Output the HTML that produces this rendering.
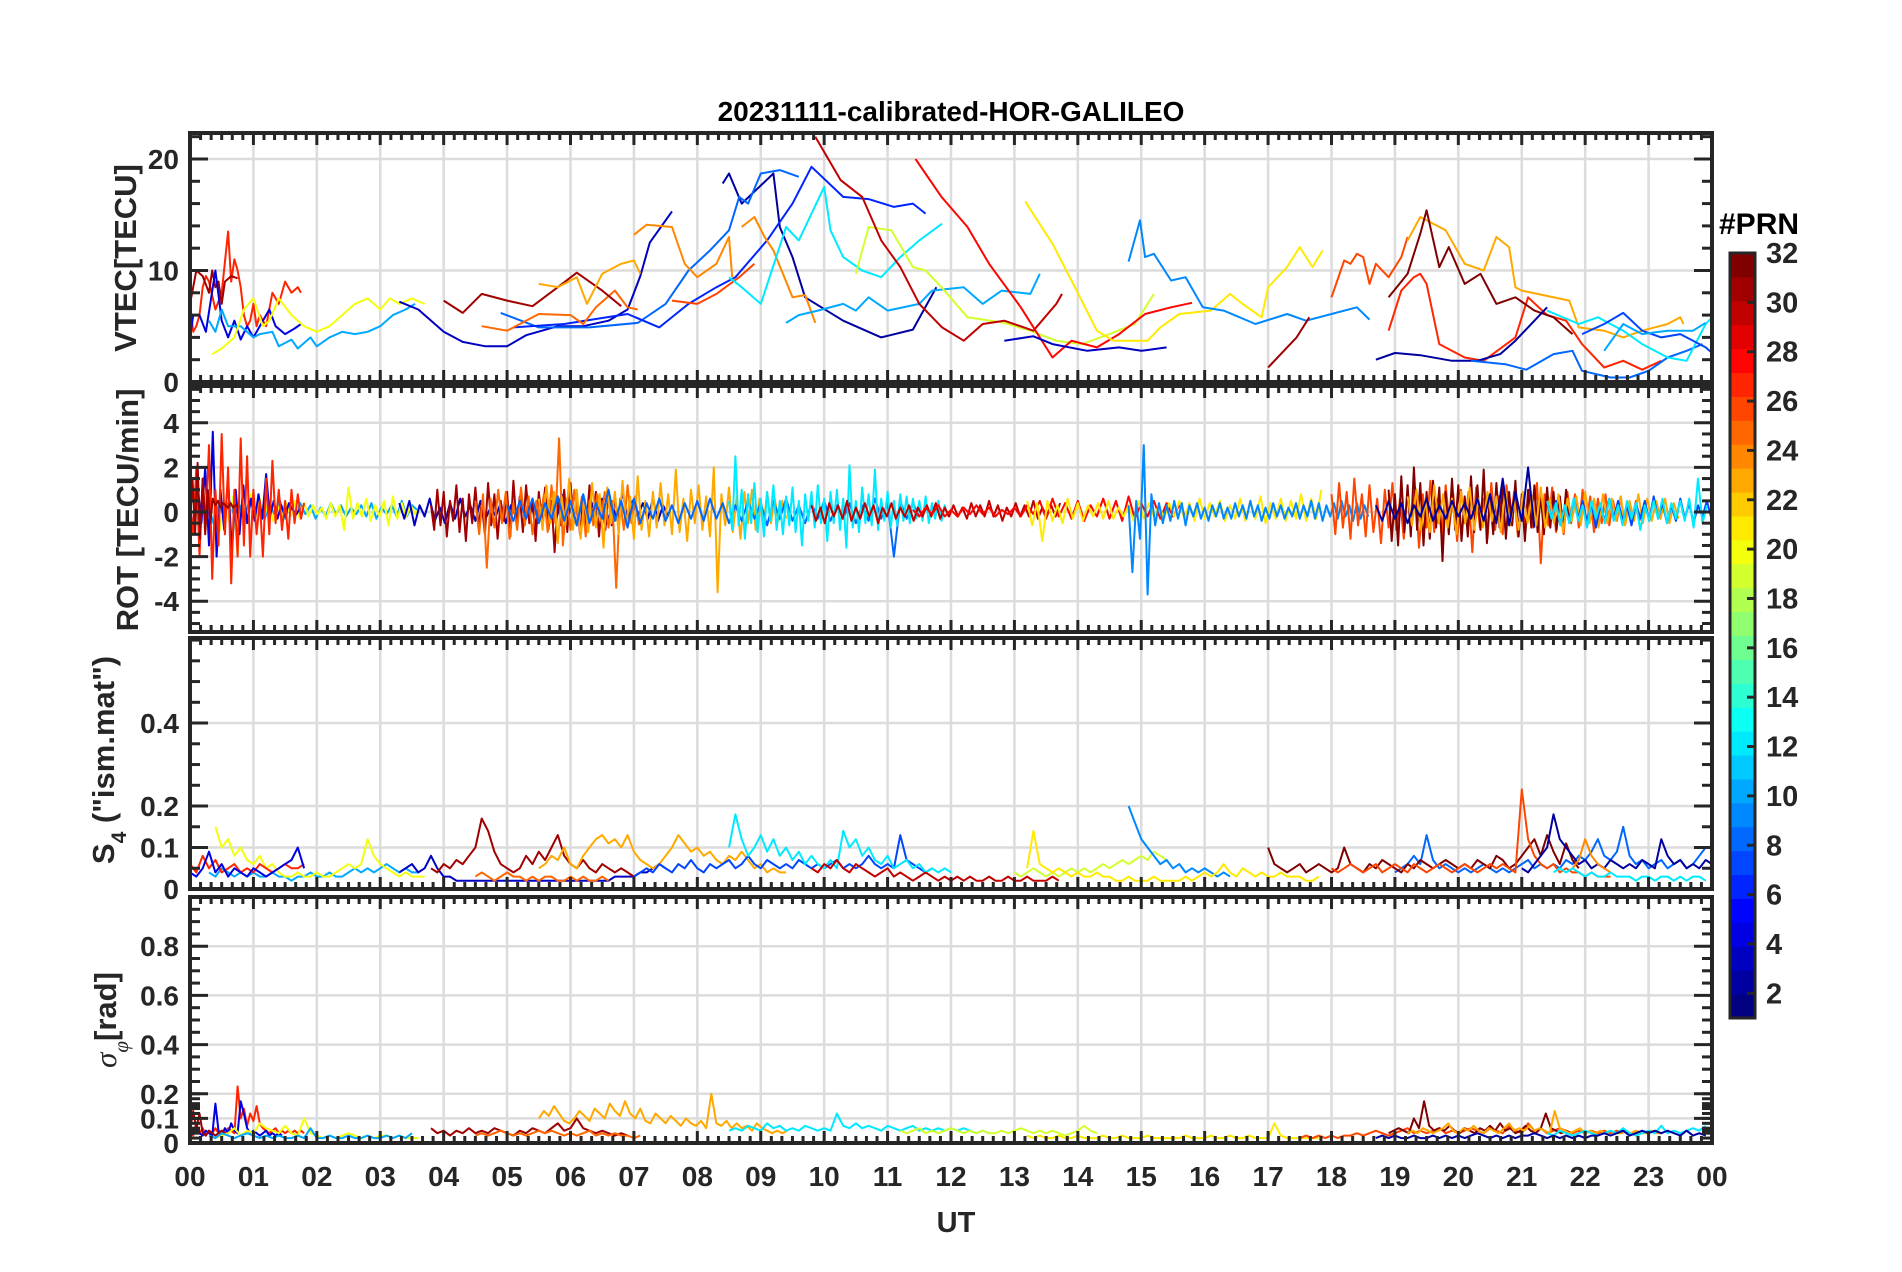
<!DOCTYPE html>
<html><head><meta charset="utf-8"><style>
html,body{margin:0;padding:0;background:#fff;}
svg{display:block;font-family:"Liberation Sans",sans-serif;}
</style></head><body>
<svg id="chart" width="1902" height="1272" viewBox="0 0 1902 1272" xmlns="http://www.w3.org/2000/svg">
<rect width="1902" height="1272" fill="#fff"/>
<g id="grid"></g>
<g id="marks"></g>
<g id="axes"></g>
<g id="cbar"></g>
<text x="951" y="121" text-anchor="middle" font-size="28" font-weight="bold" fill="#000">20231111-calibrated-HOR-GALILEO</text>
<text x="956" y="1232" text-anchor="middle" font-size="29" font-weight="bold" fill="#262626">UT</text>
<text transform="translate(136,258) rotate(-90)" text-anchor="middle" font-size="31" font-weight="bold" fill="#262626">VTEC[TECU]</text>
<text transform="translate(138,510) rotate(-90)" text-anchor="middle" font-size="31" font-weight="bold" fill="#262626">ROT [TECU/min]</text>
<text transform="translate(114,760) rotate(-90)" text-anchor="middle" font-size="31" font-weight="bold" fill="#262626">S<tspan font-size="21" dy="12">4</tspan><tspan dy="-12"> ("ism.mat")</tspan></text>
<text transform="translate(116,1020) rotate(-90)" text-anchor="middle" font-size="31" font-weight="bold" fill="#262626"><tspan font-family="Liberation Serif,serif" font-style="italic" font-weight="normal">σ</tspan><tspan font-family="Liberation Serif,serif" font-style="italic" font-weight="normal" font-size="21" dy="12">φ</tspan><tspan dy="-12">[rad]</tspan></text>
<text x="1719" y="234" font-size="30" font-weight="bold" fill="#000">#PRN</text>
</svg>
<script>
// ---------- VTEC data: [hour, TECU] ----------
const vtecP27=[[0,7],[0.05,4.5],[0.1,5],[0.15,6],[0.2,8.5],[0.25,9.5],[0.3,9],[0.4,6.5],[0.5,8],[0.6,13.5],[0.65,9],[0.7,11],[0.75,10],[0.8,8.5],[0.85,6],[0.9,5],[0.95,5.5],[1.0,7],[1.05,5],[1.1,6],[1.2,5],[1.3,8],[1.4,7],[1.5,9],[1.6,8],[1.7,8.5],[1.75,8]];
const vtecP31=[[0,7],[0.05,8.5],[0.1,10],[0.2,9.5],[0.3,8],[0.35,10],[0.4,8.5],[0.45,9],[0.5,7],[0.55,9],[0.65,9.5],[0.75,9.3]];
const vtecP4=[[0,4],[0.05,6],[0.15,6],[0.25,4.5],[0.4,10],[0.5,5.5],[0.6,4],[0.7,5.5],[0.8,3.8],[0.9,5],[1.0,4],[1.1,5],[1.25,6.5],[1.35,5],[1.5,4.3],[1.65,4.8],[1.75,5.2]];
const vtecP10=[[0.3,5.5],[0.4,4.5],[0.5,6.5],[0.6,5],[0.8,5],[1.0,4],[1.1,4.3],[1.3,4.5],[1.4,3.2],[1.6,3.8],[1.7,3],[1.9,4],[2.0,3.2],[2.2,4],[2.4,4.5],[2.6,4.3],[2.8,4.5],[3.0,5],[3.2,6],[3.4,6.5],[3.55,7]];
const vtecP20=[[0.35,2.5],[0.5,3],[0.7,4],[0.85,6.5],[1.0,7.5],[1.15,5],[1.25,5.5],[1.4,7.5],[1.6,6],[1.8,5],[2.0,4.5],[2.2,5],[2.4,6],[2.6,7],[2.8,7.5],[3.0,6.5],[3.15,7.5],[3.3,7],[3.5,7.5],[3.7,7]];
const vtecP3=[[3.3,7.2],[3.6,6.5],[4.0,4.5],[4.3,3.6],[4.66,3.2],[5.0,3.2],[5.3,4.2],[5.8,5.0],[6.2,5.0],[6.6,5.5],[6.9,6.5],[7.1,9.5],[7.25,12.5],[7.6,15.3]];
const vtecP2=[[8.4,17.8],[8.5,18.7],[8.7,16],[9.2,18.7],[9.3,13.9],[9.5,11.2],[9.7,7.6],[10.3,5.5],[10.9,4.0],[11.4,4.7],[11.77,8.5]];
const vtecP8=[[4.9,6.2],[5.5,4.9],[6.3,4.9],[7.06,5.3],[7.5,7],[7.86,10],[8.2,11.8],[8.5,13.6],[8.66,16.6],[8.8,16],[9.0,18.7],[9.3,19],[9.6,18.4]];
const vtecP6=[[5.1,4.9],[5.9,5.2],[6.9,6.1],[7.4,4.9],[7.86,7],[8.3,8.5],[8.6,9.4],[9.1,12.7],[9.5,16],[9.8,19.3],[10.3,16.6],[10.7,16.4],[11.1,15.7],[11.4,16],[11.6,15.1]];
const vtecP25=[[4.6,5.0],[5.0,4.6],[5.5,6.1],[6.0,6.0],[6.2,5.2],[6.4,6.7],[6.7,8.2],[6.9,6.7],[7.06,6.5]];
const vtecP31b=[[4.0,7.3],[4.3,6.2],[4.6,7.9],[5.0,7.3],[5.4,6.8],[5.8,8.5],[6.1,9.8],[6.5,8.2],[6.8,6.8]];
const vtecP23=[[5.5,8.8],[5.8,8.5],[6.1,9.4],[6.26,7],[6.5,9.7],[6.8,10.6],[7.0,10.9],[7.1,9.7]];
const vtecP24=[[7.0,13.2],[7.2,14.1],[7.6,13.9],[7.8,10.6],[8.0,9.4],[8.3,10.6],[8.5,13],[8.55,9.4]];
const vtecP24b=[[8.7,13.9],[8.9,14.8],[9.06,13],[9.2,11.8],[9.5,7.6],[9.7,7.8],[9.86,5.3]];
const vtecP26=[[7.6,7.3],[8.0,7.0],[8.3,7.9],[8.66,9.4],[8.9,10.6]];
const vtecP12=[[8.5,9.4],[8.7,8.5],[9.0,7],[9.4,13.9],[9.6,12.7],[10.0,17.5],[10.1,13.6],[10.3,11.2],[10.6,10],[10.9,9.4],[11.2,11.2],[11.5,12.7],[11.86,14.2]];
const vtecP10b=[[9.4,5.3],[9.6,6.0],[9.9,6.4],[10.3,7.0],[10.5,6.4],[10.7,7.6],[11.0,6.4],[11.5,7],[11.7,8.2],[12.2,8.5],[12.5,7],[12.8,8.2],[13.25,7.9],[13.4,9.7]];
const vtecP19=[[10.5,9.7],[10.7,13.9],[11.06,13.6],[11.4,10.3],[11.6,10],[11.85,8.5],[12.26,5.8],[12.84,5.3],[13.25,4.6],[13.66,3.7],[14.07,3.4],[14.5,4.3],[14.9,5.2],[15.2,7.9]];
const vtecP30=[[9.86,22],[10.26,18.1],[10.6,16.6],[10.9,12.7],[11.2,10.3],[11.5,7],[11.86,4.9],[12.2,3.7],[12.5,5.2],[12.84,5.5],[13.3,4.6],[13.66,7],[13.75,7.9]];
const vtecP28=[[11.44,20],[11.85,16.6],[12.26,13.9],[12.6,10.6],[13.1,6.7],[13.6,2.2],[13.9,3.7],[14.3,3.1],[14.65,4.3],[15.06,6.1],[15.47,6.7],[15.8,7.1]];
const vtecP21=[[13.17,16.2],[13.6,12.4],[13.9,9.1],[14.3,4.6],[14.56,3.7],[15.1,3.7],[15.3,4.9],[15.6,6.1],[16.1,6.4],[16.4,7.9],[16.6,7],[16.9,5.8],[17.0,8.5],[17.3,10.3],[17.5,12.1],[17.7,10.3],[17.86,11.8]];
const vtecP9=[[14.8,10.8],[14.98,14.5],[15.06,11.2],[15.2,11.5],[15.47,9.1],[15.7,9.4],[15.97,6.7],[16.3,6.4],[16.8,5.2],[17.3,6.1],[17.6,5.5],[18.0,6.1],[18.4,6.7],[18.6,5.6]];
const vtecP3b=[[12.84,3.7],[13.3,4.1],[13.6,3.4],[14.15,2.8],[14.65,3.1],[15.0,2.8],[15.4,3.1]];
const vtecP31c=[[17.0,1.3],[17.3,3.1],[17.45,4.0],[17.65,5.8]];
const vtecP26b=[[18.0,7.6],[18.2,10.9],[18.3,10.6],[18.4,11.5],[18.5,11.2],[18.6,8.8],[18.7,10.6],[18.9,9.4],[19.1,11.2],[19.2,13]];
const vtecP27b=[[18.9,4.6],[19.1,8.2],[19.3,9.4],[19.4,9.7],[19.5,8.8],[19.7,3.4],[20.1,2.2],[20.4,1.9],[20.9,4.0],[21.1,7.6],[21.4,6.0],[21.7,5.5],[21.95,3.4],[22.3,1.3],[22.6,1.9],[22.9,1.1],[23.2,1.9]];
const vtecP23b=[[19.2,12.7],[19.4,14.8],[19.8,13.6],[20.1,10.6],[20.4,10],[20.6,13],[20.8,12.1],[20.9,8.5],[21.0,8.2],[21.75,7.3],[21.9,4.9],[22.3,4.6],[22.6,4.0],[22.9,4.6],[23.3,5.2],[23.5,5.8],[23.55,5.2]];
const vtecP32=[[18.9,7.6],[19.2,9.7],[19.4,13.3],[19.5,15.4],[19.7,10.3],[19.85,12.1],[20.1,8.8],[20.35,9.7],[20.6,7],[20.9,7.6],[21.2,6.4],[21.5,5.8],[21.8,4.3]];
const vtecP2b=[[18.7,2.0],[19.0,2.6],[19.4,2.4],[19.9,1.9],[20.3,1.9],[20.66,2.5],[20.9,3.7],[21.2,5.5],[21.4,6.7]];
const vtecP8b=[[20.2,1.9],[20.74,1.6],[21.07,1.1],[21.5,2.5],[21.8,2.8],[21.95,1.0],[22.4,0.4],[22.7,0.4],[23.0,1.0],[23.3,2.2],[23.6,2.8],[23.85,3.4]];
const vtecP12b=[[21.4,6.4],[21.9,5.2],[22.2,5.8],[22.6,4.6],[22.9,3.4],[23.3,2.2],[23.6,1.9],[23.9,5.2],[24,5.8]];
const vtecP7=[[21.95,4.3],[22.3,5.2],[22.6,6.2],[22.9,4.6],[23.2,4],[23.5,4.3],[23.9,3.1],[24,2.6]];
const vtecP10c=[[22.3,2.8],[22.6,5.2],[22.9,4.3],[23.3,4.6],[23.7,4.6],[23.9,5.3]];
const vtecPRN=[27,31,4,10,20,3,2,8,6,25,31,23,24,24,26,12,10,19,30,28,21,9,3,31,26,27,23,32,2,8,12,7,10];
const vtecSeries=[vtecP27,vtecP31,vtecP4,vtecP10,vtecP20,vtecP3,vtecP2,vtecP8,vtecP6,vtecP25,vtecP31b,vtecP23,vtecP24,vtecP24b,vtecP26,vtecP12,vtecP10b,vtecP19,vtecP30,vtecP28,vtecP21,vtecP9,vtecP3b,vtecP31c,vtecP26b,vtecP27b,vtecP23b,vtecP32,vtecP2b,vtecP8b,vtecP12b,vtecP7,vtecP10c];

// ---------- ROT data: start hour, step, values ----------
const rotPRN=[10,20,4,27,31,3,31,25,23,8,12,30,28,21,9,26,32,23,2,7,12];
const rotStart=[0.3,0.4,0,0,0,3.3,3.8,4.5,5.5,5.0,8.5,9.8,11.4,13.2,14.8,18.0,18.9,19.2,18.7,21.4,21.4];
const rotStep=[0.08,0.07,0.06,0.05,0.04,0.08,0.05,0.06,0.06,0.1,0.05,0.07,0.1,0.08,0.06,0.06,0.05,0.07,0.1,0.07,0.07];
const rotV0=[0.2,-0.6,0.4,-0.3,0.5,-0.2,0.3,-0.4,0.6,-0.1,0.2,-0.3,0.4,-0.2,0.5,-0.3,0.3,-0.2,0.4,-0.1,0.3,-0.3,0.2,-0.2,0.4,-0.1,0.3,-0.2,0.2,-0.1,0.3,-0.2,0.4,-0.3,0.2,-0.1,0.3,-0.2,0.5,-0.2,0.3,0.1];
const rotV1=[0.3,-0.8,0.5,-0.4,0.7,-1.9,0.4,-0.5,0.8,-0.3,0.6,-0.2,0.5,-0.4,0.3,-0.3,0.4,-0.2,0.5,-0.3,0.4,-0.2,0.3,-0.1,0.2,-0.3,0.4,-0.2,0.3,-0.8,1.1,-0.3,0.4,-0.2,0.6,-0.4,0.3,-0.2,0.5,-0.6,0.7,-0.3,0.4,-0.2,0.3,-0.1,0.2];
const rotV2=[0.3,-1,1.2,-0.5,2,-1.5,3.6,-2,1,-0.8,1.5,-1.8,1,-1,1.2,-0.5,0.6,-0.4,0.8,-0.3,1.7,-0.2,0.5,-0.3,0.3,-0.2,0.4,0.1,-0.1,0.2];
const rotV3=[0.5,-1,2,-2,1.5,-0.5,3,-3,1,-1.5,3.5,-1,2,-3.2,1,-2,3.3,-1.5,2.5,-2,1,-1,0.5,-2,1.5,-1,2.3,-0.5,1,-0.8,0.5,-1.2,1,-0.5,0.8,-0.3,0.4];
const rotV4=[-0.5,1.5,-1,2.2,-1.2,1.5,-1,1,-0.5,0.6,0.3,0.5,0.2,0.4,0.3,0.2,0.4,0.2,0.3,0.2];
const rotV5=[0.4,-0.3,0.5,-0.6,0.3,-0.2,0.6,-0.4,0.2,-0.5,0.4,-0.3,0.6,-0.2,0.3,-0.4,0.5,-0.3,0.2,-0.2,0.4,-0.5,0.3,-0.2,0.7,-0.3,0.4,-0.6,0.3,-0.2,0.5,-0.3,0.8,-0.4,0.3,-0.6,0.5,-0.3,0.4,-0.2,0.6,-0.5,0.3,-0.4,0.9,-0.3,0.5,-0.2,0.4,-0.3,0.6,-0.4,0.3,-0.2];
const rotV6=[0.3,-0.8,1,-0.6,0.9,-1.1,0.5,-0.4,1.2,-0.9,0.6,-1.3,0.8,-0.5,1.1,-0.7,0.4,-1,1.3,-0.6,0.8,-1.2,0.5,-0.4,0.9,-1.1,1.4,-0.6,0.7,-0.9,1.2,-0.5,0.6,-1.3,0.9,-0.4,1.1,-0.8,0.5,-1.8,0.7,-0.6,1,-0.9,1.3,-0.5,0.8,-1,0.6,-0.7,1.2,-0.4,0.9,-1.1,0.5,-0.8,1,-0.6,0.7,-0.5];
const rotV7=[0.5,-1,0.8,-2.5,0.6,-0.7,1,-0.5,0.9,-1.2,0.4,-0.8,1.1,-0.6,0.7,-1,0.5,-0.4,0.8,-0.9,1.2,-0.5,3.3,-1.5,0.6,-0.8,1,-0.5,0.7,-1.1,0.5,-0.6,0.8,-0.4,0.9,-0.7,0.5,-3.4,0.6,-0.8,1.2,-0.5,0.7,-0.6];
const rotV8=[0.6,-0.8,1.2,-0.5,0.9,-1.4,0.7,-0.6,1.5,-0.8,1,-1.2,0.6,-0.9,1.3,-0.7,0.8,-1.6,1.1,-0.5,0.9,-1,1.4,-0.6,0.7,-1.2,1.6,-0.8,0.5,-1.1,0.9,-0.7,1.3,-0.6,0.8,-1,1.9,-0.9,0.6,-1.3,1,-0.5,1.2,-0.8,0.7,-1.1,2,-3.6,0.8,-0.6,1.1,-0.9,0.7,-1.2,0.9,-0.5,1,-0.8,0.6,-0.7,0.9,-0.5,0.6,-0.4,0.5,-0.3];
const rotV9=[0.3,-0.4,0.5,-0.3,0.6,-0.5,0.4,-0.3,0.7,-0.4,0.5,-0.6,0.8,-0.5,0.4,-0.3,1.0,-0.4,0.5,-0.7,0.6,-0.5,0.4,-0.3,0.6,-0.4,0.3,-0.5,0.4,-0.3,0.5,-0.4,0.6,-0.3,0.4,-0.5,0.3,-0.4,0.5,-0.3,0.4,-0.6,0.5,-0.3,0.6,-0.4,0.3,-0.5,0.4,-0.3,0.5,-0.4,0.3,-0.3,0.4,-0.5,0.3,-0.4,0.6,-0.3,0.4,-2.0,0.5,-0.3,0.4,-0.2];
const rotV10=[0.5,-0.8,2.5,-0.6,1,-1.2,0.8,-0.5,1.3,-0.9,0.6,-1.1,0.9,-0.4,1.2,-0.8,0.5,-1,0.7,-0.6,1.1,-0.9,0.5,-1.5,0.8,-0.4,0.9,-0.7,1.2,-0.5,0.6,-1.3,0.9,-0.5,1,-0.8,0.6,-1.6,2.1,-0.7,0.5,-0.9,1.1,-0.5,0.8,-0.6,1.9,-0.8,0.6,-0.4,0.9,-0.7,0.5,-0.6,0.8,-0.4,0.7,-0.5,0.6,-0.3,0.5,-0.4,0.7,-0.5,0.4,-0.3,0.5,-0.4,0.3,-0.2];
const rotV11=[0.3,-0.4,0.2,-0.5,0.4,-0.2,0.3,-0.3,0.5,-0.4,0.2,-0.3,0.4,-0.2,0.3,-0.5,0.2,-0.2,0.4,-0.3,0.2,-0.2,0.3,-0.4,0.2,-0.2,0.3,-0.2,0.4,-0.3,0.2,-0.2,0.3,-0.2,0.2,-0.3,0.4,-0.2,0.3,-0.2,0.5,-0.2,0.3,-0.4,0.2,-0.2,0.4,-0.2,0.3,-0.2,0.5,-0.3,0.2,-0.2,0.3,-0.2,0.4];
const rotV12=[0.1,-0.2,0.2,-0.1,0.3,-0.2,0.1,-0.2,0.2,-0.1,0.3,-0.1,0.2,-0.2,0.1,-0.1,0.2,-0.2,0.3,-0.1,0.5,-0.3,0.6,-0.2,0.4,-0.3,0.5,-0.4,0.3,-0.2,0.6,-0.3,0.5,-0.4,0.7,-0.3,0.4,-0.2,0.5,-0.3,0.4,-0.2,0.3,-0.2];
const rotV13=[0.5,-0.6,0.4,-1.3,0.5,-0.4,0.3,-0.5,0.6,-0.3,0.4,-0.4,0.3,-0.2,0.4,-0.3,0.5,-0.3,0.2,-0.2,0.3,-0.4,0.5,-0.3,0.4,-0.2,0.3,-0.3,0.4,-0.2,0.5,-0.3,0.4,-0.4,0.6,-0.3,0.4,-0.2,0.5,-0.4,0.3,-0.3,0.6,-0.4,0.5,-0.3,0.7,-0.5,0.4,-0.3,0.6,-0.4,0.5,-0.3,0.8,-0.4,0.6,-0.3,1.0];
const rotV14=[0.3,-2.7,0.5,-1.2,3.0,-3.7,0.8,-0.6,0.4,-0.5,0.3,-0.4,0.5,-0.3,0.4,-0.6,0.3,-0.2,0.4,-0.3,0.2,-0.4,0.3,-0.2,0.4,-0.3,0.2,-0.3,0.4,-0.2,0.3,-0.3,0.5,-0.2,0.3,-0.4,0.2,-0.3,0.4,-0.2,0.3,-0.3,0.2,-0.2,0.4,-0.3,0.3,-0.2,0.5,-0.3,0.4,-0.4,0.3,-0.2,0.4,-0.3,0.5,-0.2,0.3,-0.4,0.4,-0.3,0.3,-0.2];
const rotV15=[0.8,-1,1.3,-0.7,0.9,-1.2,1.5,-0.6,0.8,-1.1,1.2,-0.9,0.6,-1.4,1,-0.7,1.3,-0.8,0.6,-1.2,0.9,-0.5,1.1,-1.6,0.8,-0.7,1.4,-0.9,0.6,-1.1,1.2,-0.6,0.8,-1.3,1,-0.5,0.9,-1.8,1.1,-0.7,0.6,-1.2,1.3,-0.8,0.7,-1,1.2,-0.6,0.9,-1.1,0.5,-0.8,1,-0.7,1.3,-2.3,0.8,-0.6,1.1,-0.9,0.7,-1,0.9,-0.5,0.8,-0.7,1,-0.6,0.7,-0.9,0.6,-0.5,0.8,-0.6,0.5,-0.4,0.7,-0.5,0.4,-0.3,0.5,-0.4];
const rotV16=[1,-1.3,0.8,-1.5,1.6,-0.9,1.2,-1.1,2,-0.8,1.3,-1.5,0.9,-1.2,1.4,-0.7,1.1,-2.2,0.9,-1,1.5,-0.8,1.2,-1.3,0.7,-1.1,1.6,-0.9,1.2,-0.8,1.9,-1.4,0.8,-1,1.3,-0.7,1.1,-1.2,0.9,-0.6,1.4,-1.1,0.8,-1.3,1,-0.7,1.2,-0.9,0.8,-1,1.1,-0.7,0.9,-0.8,0.7,-0.6,1.0,-0.5];
const rotV17=[0.7,-0.6,1,-0.8,0.5,-0.9,1.2,-0.5,0.8,-0.7,0.6,-1,0.9,-0.5,1.1,-0.8,0.6,-0.7,0.9,-0.4,0.7,-0.9,1,-0.6,0.5,-0.8,0.9,-0.5,0.7,-0.6,1.1,-0.7,0.6,-0.5,0.8,-0.9,0.6,-0.4,0.7,-0.6,0.9,-0.5,0.6,-0.7,0.8,-0.5,0.6,-0.4,0.7,-0.6,0.5,-0.4,0.8,-0.5,0.6,-0.4,0.5,-0.3,0.6,-0.5,0.4,-0.3];
const rotV18=[0.3,-0.4,0.5,-0.3,0.4,-0.5,0.3,-0.2,0.6,-0.4,0.3,-0.3,0.5,-0.2,0.4,-0.3,0.6,-0.4,0.8,-0.5,1.5,-0.6,0.9,-0.4,2.0,-0.7];
const rotV19=[0.4,-0.3,0.5,-0.6,0.3,-0.4,0.6,-0.3,0.5,-0.5,0.4,-0.7,0.3,-0.4,0.6,-0.3,0.5,-0.4,0.3,-0.6,0.4,-0.3,0.5,-0.4,0.7,-0.3,0.4,-0.5,0.3,-0.4,0.6,-0.3,0.4,-0.5,0.3,-0.2,0.5,-0.3];
const rotV20=[0.5,-0.3,0.4,-0.6,0.3,-0.5,0.6,-0.4,0.3,-0.7,0.5,-0.3,0.4,-0.5,0.6,-0.4,0.3,-0.6,0.5,-0.3,0.4,-0.8,0.3,-0.4,0.5,-0.3,0.6,-0.5,0.4,-0.3,0.5,-0.4,0.6,-0.7,1.5,-0.5,0.3];
const rotSeries=[rotV0,rotV1,rotV2,rotV3,rotV4,rotV5,rotV6,rotV7,rotV8,rotV9,rotV10,rotV11,rotV12,rotV13,rotV14,rotV15,rotV16,rotV17,rotV18,rotV19,rotV20];

// ---------- S4 data ----------
const s4PRN=[10,3,20,27,4,31,23,25,7,12,30,19,9,21,8,32,26,2,24,12];
const s4Start=[0.3,3.3,0.4,0,0,3.8,5.5,4.5,7.0,8.5,9.8,13.0,14.8,13.2,19.0,17.0,18.0,21.0,21.8,21.5];
const s4Step=[0.1,0.1,0.1,0.1,0.1,0.1,0.1,0.1,0.1,0.1,0.1,0.1,0.1,0.1,0.1,0.1,0.1,0.1,0.1,0.1];
const s4V0=[0.04,0.03,0.05,0.04,0.03,0.04,0.03,0.04,0.03,0.03,0.04,0.03,0.03,0.02,0.03,0.03,0.04,0.03,0.03,0.04,0.03,0.03,0.04,0.05,0.04,0.05,0.04,0.05,0.06,0.05,0.04,0.05,0.04,0.04];
const s4V1=[0.04,0.05,0.06,0.04,0.05,0.08,0.05,0.03,0.03,0.02,0.02,0.02,0.02,0.02,0.02,0.02,0.02,0.02,0.02,0.02,0.02,0.02,0.02,0.02,0.02,0.02,0.02,0.02,0.02,0.02,0.02,0.02,0.02,0.02,0.03,0.03,0.03,0.03,0.04,0.04,0.05,0.06,0.05];
const s4V2=[0.15,0.1,0.12,0.08,0.1,0.07,0.06,0.08,0.05,0.06,0.04,0.03,0.03,0.04,0.03,0.03,0.04,0.03,0.03,0.04,0.05,0.06,0.05,0.06,0.12,0.08,0.06,0.05,0.04,0.03,0.04,0.03,0.03,0.03];
const s4V3=[0.06,0.04,0.08,0.05,0.07,0.04,0.05,0.06,0.04,0.05,0.04,0.06,0.05,0.04,0.05,0.06,0.05,0.05,0.06];
const s4V4=[0.04,0.03,0.05,0.09,0.04,0.06,0.03,0.05,0.04,0.03,0.05,0.04,0.03,0.04,0.05,0.06,0.07,0.1,0.05];
const s4V5=[0.05,0.04,0.06,0.05,0.07,0.06,0.08,0.1,0.17,0.14,0.09,0.06,0.05,0.04,0.05,0.08,0.06,0.09,0.07,0.1,0.13,0.08,0.06,0.05,0.07,0.05,0.04,0.06,0.05,0.04,0.05,0.04,0.03];
const s4V6=[0.05,0.06,0.08,0.07,0.1,0.06,0.05,0.08,0.1,0.12,0.13,0.11,0.12,0.1,0.13,0.09,0.07,0.06,0.05,0.06,0.08,0.1,0.13,0.11,0.09,0.1,0.08,0.09,0.07,0.06,0.08,0.07,0.09,0.07,0.05,0.06,0.04,0.05,0.04,0.04];
const s4V7=[0.03,0.04,0.03,0.02,0.03,0.04,0.03,0.03,0.02,0.03,0.02,0.03,0.03,0.02,0.02,0.03,0.02,0.03,0.02,0.02,0.03,0.02];
const s4V8=[0.03,0.04,0.05,0.04,0.06,0.05,0.04,0.06,0.05,0.07,0.05,0.04,0.06,0.05,0.06,0.07,0.05,0.06,0.08,0.06,0.05,0.07,0.06,0.05,0.06,0.05,0.07,0.06,0.05,0.06,0.05,0.06,0.07,0.05,0.06,0.05,0.06,0.08,0.06,0.05,0.06,0.05,0.13,0.07,0.06,0.05,0.04,0.05];
const s4V9=[0.1,0.18,0.12,0.08,0.1,0.13,0.09,0.12,0.08,0.1,0.07,0.09,0.06,0.08,0.06,0.05,0.07,0.05,0.14,0.1,0.12,0.08,0.1,0.07,0.06,0.08,0.05,0.06,0.07,0.05,0.06,0.04,0.05,0.04,0.05,0.04];
const s4V10=[0.05,0.04,0.06,0.05,0.07,0.05,0.04,0.06,0.05,0.04,0.03,0.04,0.05,0.03,0.04,0.03,0.02,0.03,0.04,0.03,0.02,0.03,0.02,0.03,0.02,0.03,0.02,0.02,0.03,0.02,0.02,0.03,0.02,0.02,0.03,0.02,0.02,0.02,0.03,0.02];
const s4V11=[0.04,0.03,0.04,0.05,0.04,0.03,0.04,0.03,0.04,0.05,0.04,0.05,0.04,0.05,0.06,0.05,0.06,0.07,0.06,0.07,0.08,0.07,0.09,0.08,0.07];
const s4V12=[0.2,0.16,0.12,0.1,0.08,0.06,0.07,0.05,0.06,0.04,0.05,0.04,0.05,0.04,0.03,0.04,0.03];
const s4V13=[0.05,0.14,0.06,0.05,0.04,0.05,0.04,0.03,0.04,0.03,0.03,0.04,0.03,0.03,0.02,0.02,0.03,0.02,0.02,0.02,0.03,0.02,0.02,0.02,0.02,0.03,0.02,0.03,0.04,0.03,0.04,0.06,0.04,0.03,0.05,0.04,0.03,0.04,0.03,0.03,0.04,0.03,0.03,0.03,0.02,0.02,0.03];
const s4V14=[0.04,0.05,0.06,0.08,0.06,0.13,0.07,0.05,0.06,0.05,0.04,0.05,0.04,0.05,0.06,0.05,0.04,0.05,0.04,0.05,0.06,0.07,0.05,0.06,0.05,0.06,0.05,0.07,0.06,0.08,0.07,0.09,0.12,0.08,0.07,0.09,0.15,0.08,0.06,0.07,0.05,0.06,0.07,0.05,0.06,0.07,0.05,0.06,0.08,0.1];
const s4V15=[0.1,0.06,0.05,0.04,0.05,0.06,0.04,0.05,0.06,0.05,0.04,0.05,0.1,0.06,0.05,0.04,0.06,0.05,0.07,0.06,0.05,0.04,0.06,0.05,0.07,0.06,0.05,0.06,0.07,0.06,0.05,0.06,0.05,0.07,0.06,0.05,0.08,0.07,0.05,0.06,0.08,0.1,0.12,0.08,0.13,0.09,0.06,0.11,0.07,0.05];
const s4V16=[0.05,0.04,0.05,0.06,0.05,0.04,0.05,0.06,0.04,0.05,0.06,0.05,0.04,0.06,0.05,0.04,0.05,0.06,0.05,0.04,0.05,0.06,0.05,0.04,0.05,0.06,0.05,0.06,0.05,0.04,0.24,0.12,0.08,0.06,0.05,0.06,0.04,0.05,0.04,0.04,0.03,0.04,0.03,0.03,0.03];
const s4V17=[0.05,0.04,0.06,0.08,0.1,0.18,0.12,0.1,0.08,0.06,0.07,0.05,0.06,0.05,0.07,0.06,0.05,0.06,0.05,0.07,0.06,0.05,0.12,0.08,0.06,0.07,0.05,0.06,0.05,0.07,0.06];
const s4V18=[0.05,0.07,0.12,0.08,0.06,0.05,0.04];
const s4V19=[0.04,0.05,0.04,0.05,0.04,0.03,0.04,0.03,0.03,0.04,0.03,0.03,0.03,0.02,0.03,0.03,0.02,0.03,0.03,0.02,0.03,0.02,0.03,0.03,0.02];
const s4Series=[s4V0,s4V1,s4V2,s4V3,s4V4,s4V5,s4V6,s4V7,s4V8,s4V9,s4V10,s4V11,s4V12,s4V13,s4V14,s4V15,s4V16,s4V17,s4V18,s4V19];

// ---------- sigma-phi data ----------
const sigPRN=[27,4,31,20,10,31,23,25,12,19,21,26,32,23,12,2];
const sigStart=[0,0,0,0.4,0.3,3.8,5.5,4.5,8.5,11.2,13.2,17.5,18.9,19.2,21.4,18.7];
const sigStep=[0.05,0.05,0.05,0.1,0.1,0.1,0.08,0.1,0.1,0.1,0.1,0.1,0.08,0.08,0.1,0.1];
const sigV0=[0.05,0.03,0.08,0.04,0.06,0.03,0.05,0.04,0.06,0.04,0.05,0.04,0.06,0.05,0.04,0.23,0.1,0.14,0.07,0.12,0.09,0.15,0.08,0.06,0.05,0.04,0.05,0.06,0.04,0.05,0.04,0.05,0.04,0.05,0.04,0.05,0.04];
const sigV1=[0.03,0.04,0.06,0.04,0.03,0.05,0.04,0.03,0.16,0.05,0.03,0.06,0.04,0.08,0.05,0.04,0.17,0.12,0.06,0.04,0.05,0.04,0.03,0.04,0.05,0.03,0.04,0.03,0.04,0.03];
const sigV2=[0.05,0.13,0.06,0.12,0.04,0.03,0.05,0.04,0.03,0.04,0.05,0.04];
const sigV3=[0.02,0.03,0.04,0.06,0.03,0.05,0.04,0.08,0.06,0.05,0.04,0.07,0.04,0.03,0.1,0.04,0.03,0.02,0.03,0.02,0.03,0.04,0.03,0.02,0.03,0.02,0.03,0.03,0.02,0.03,0.02,0.02,0.02];
const sigV4=[0.03,0.02,0.04,0.03,0.02,0.03,0.04,0.03,0.02,0.03,0.02,0.03,0.02,0.02,0.03,0.02,0.06,0.02,0.02,0.03,0.02,0.02,0.03,0.02,0.02,0.03,0.02,0.02,0.03,0.02,0.03,0.02,0.04];
const sigV5=[0.06,0.04,0.05,0.03,0.05,0.04,0.06,0.04,0.05,0.04,0.06,0.05,0.04,0.03,0.05,0.04,0.06,0.05,0.04,0.06,0.08,0.05,0.06,0.1,0.06,0.05,0.04,0.05,0.04,0.03,0.04,0.03];
const sigV6=[0.1,0.13,0.11,0.15,0.12,0.09,0.08,0.1,0.13,0.11,0.09,0.14,0.12,0.1,0.16,0.13,0.11,0.17,0.12,0.1,0.14,0.09,0.08,0.12,0.1,0.08,0.11,0.09,0.07,0.1,0.08,0.07,0.09,0.06,0.2,0.08,0.07,0.09,0.06,0.08,0.06,0.07,0.05,0.08,0.06,0.05,0.04,0.05,0.04,0.05];
const sigV7=[0.03,0.04,0.03,0.04,0.05,0.04,0.03,0.04,0.03,0.04,0.05,0.04,0.05,0.04,0.03,0.04,0.03,0.04,0.05,0.03,0.04,0.03,0.04,0.03,0.03,0.02,0.03];
const sigV8=[0.05,0.06,0.05,0.07,0.06,0.05,0.08,0.06,0.07,0.05,0.06,0.05,0.07,0.06,0.05,0.06,0.05,0.12,0.07,0.06,0.08,0.06,0.07,0.06,0.05,0.07,0.06,0.05,0.06,0.07,0.05,0.06,0.05,0.06,0.05,0.06,0.05,0.06,0.05,0.04,0.05,0.04];
const sigV9=[0.05,0.04,0.05,0.06,0.04,0.05,0.04,0.05,0.06,0.05,0.04,0.05,0.04,0.05,0.04,0.04,0.05,0.04,0.05,0.06,0.05,0.04,0.05,0.04,0.05,0.04,0.03,0.04,0.05,0.07,0.05,0.04];
const sigV10=[0.03,0.02,0.03,0.02,0.02,0.03,0.02,0.02,0.03,0.02,0.02,0.02,0.03,0.02,0.02,0.03,0.02,0.02,0.02,0.03,0.02,0.02,0.02,0.02,0.02,0.03,0.02,0.02,0.02,0.03,0.02,0.02,0.03,0.02,0.02,0.03,0.02,0.02,0.02,0.08,0.03,0.02,0.02,0.02,0.02,0.02,0.02];
const sigV11=[0.02,0.03,0.02,0.03,0.02,0.03,0.02,0.03,0.03,0.04,0.03,0.04,0.05,0.04,0.03,0.04,0.05,0.06,0.04,0.05,0.04,0.05,0.06,0.04,0.05,0.04,0.05,0.06,0.05,0.04,0.06,0.05,0.04,0.07,0.05,0.04,0.08,0.05,0.06,0.04,0.05,0.06,0.05,0.04,0.05,0.04,0.05,0.04,0.05,0.04,0.05,0.04];
const sigV12=[0.04,0.05,0.06,0.05,0.04,0.1,0.06,0.17,0.07,0.05,0.06,0.05,0.07,0.05,0.04,0.06,0.05,0.04,0.06,0.05,0.07,0.05,0.08,0.05,0.06,0.04,0.05,0.07,0.05,0.04,0.06,0.12,0.06,0.05,0.04,0.05,0.04];
const sigV13=[0.04,0.05,0.04,0.06,0.05,0.04,0.05,0.06,0.08,0.05,0.04,0.06,0.05,0.07,0.05,0.04,0.06,0.05,0.04,0.06,0.08,0.05,0.06,0.05,0.07,0.05,0.06,0.05,0.04,0.13,0.06,0.05,0.04,0.05,0.06,0.04,0.05,0.04,0.05,0.04,0.05,0.04,0.04,0.05,0.04,0.05,0.04,0.04,0.05,0.04,0.04];
const sigV14=[0.04,0.03,0.05,0.04,0.03,0.04,0.05,0.04,0.03,0.04,0.05,0.04,0.06,0.04,0.03,0.04,0.05,0.04,0.07,0.04,0.05,0.04,0.05,0.06,0.05,0.07];
const sigV15=[0.02,0.03,0.02,0.03,0.02,0.02,0.03,0.02,0.02,0.03,0.02,0.03,0.02,0.03,0.02,0.03,0.04,0.03,0.02,0.03,0.02,0.03,0.02,0.03,0.03,0.04,0.03,0.02,0.03,0.02,0.03,0.02,0.03,0.02,0.03,0.03,0.04,0.03,0.04,0.05,0.03,0.04,0.05,0.04,0.05,0.04,0.05,0.04,0.03,0.05,0.03,0.04,0.03];
const sigSeries=[sigV0,sigV1,sigV2,sigV3,sigV4,sigV5,sigV6,sigV7,sigV8,sigV9,sigV10,sigV11,sigV12,sigV13,sigV14,sigV15];

// ---------- axis tick labels ----------
const xTickLabels=["00","01","02","03","04","05","06","07","08","09","10","11","12","13","14","15","16","17","18","19","20","21","22","23","00"];
const vtecTicks=[0,10,20];
const rotTicks=[-4,-2,0,2,4];
const s4Ticks=[0,0.1,0.2,0.4];
const sigTicks=[0,0.1,0.2,0.4,0.6,0.8];
const cbarTicks=[2,4,6,8,10,12,14,16,18,20,22,24,26,28,30,32];

const NS="http://www.w3.org/2000/svg";
const L=190,R=1712;
const panels=[
 {name:'vtec',top:133,bot:382,min:0,max:22.33,ticks:vtecTicks,grid:[10,20],minor:2},
 {name:'rot',top:386,bot:632,min:-5.38,max:5.65,ticks:rotTicks,grid:[-4,-2,0,2,4],minor:0.5},
 {name:'s4',top:638,bot:889,min:0,max:0.605,ticks:s4Ticks,grid:[0.1,0.2,0.4],minor:0.05},
 {name:'sigma',top:897,bot:1143,min:0,max:1.0,ticks:sigTicks,grid:[0.1,0.2,0.4,0.6,0.8],minor:0.05}
];
function xs(h){return L+h*(R-L)/24;}
function ys(p,v){return p.bot-(v-p.min)/(p.max-p.min)*(p.bot-p.top);}
function jet(prn){
 const t=(prn-1)/31;
 const f=x=>Math.max(0,Math.min(1,x));
 const r=f(1.5-Math.abs(4*t-3)),g=f(1.5-Math.abs(4*t-2)),b=f(1.5-Math.abs(4*t-1));
 return `rgb(${Math.round(r*255)},${Math.round(g*255)},${Math.round(b*255)})`;
}
function mk(tag,attrs,parent){const e=document.createElementNS(NS,tag);for(const k in attrs)e.setAttribute(k,attrs[k]);parent.appendChild(e);return e;}
const gG=document.getElementById('grid'),gM=document.getElementById('marks'),gA=document.getElementById('axes'),gC=document.getElementById('cbar');
const AX='#262626';

panels.forEach(p=>{
 for(let h=1;h<24;h++){const l=mk('line',{x1:xs(h),x2:xs(h),y1:p.top,y2:p.bot,stroke:'#dcdcdc','stroke-width':2.5},gG);
  
  }
 p.grid.forEach(v=>{const l=mk('line',{x1:L,x2:R,y1:ys(p,v),y2:ys(p,v),stroke:'#dcdcdc','stroke-width':2.5},gG);
  
  });
 for(let m=0;m<=144;m++){const x=xs(m/6);const len=(m%6===0)?12:7;
  mk('line',{x1:x,x2:x,y1:p.top,y2:p.top+len,stroke:AX,'stroke-width':3},gA);
  mk('line',{x1:x,x2:x,y1:p.bot,y2:p.bot-len,stroke:AX,'stroke-width':3},gA);}
 const n=Math.round((p.max-p.min)/p.minor)+2;
 for(let i=-n;i<=n;i++){const v=i*p.minor;if(v<p.min||v>p.max)continue;const y=ys(p,v);
  const major=p.ticks.some(t=>Math.abs(t-v)<1e-6);const len=major?18:10;
  mk('line',{x1:L,x2:L+len,y1:y,y2:y,stroke:AX,'stroke-width':3},gA);
  mk('line',{x1:R,x2:R-len,y1:y,y2:y,stroke:AX,'stroke-width':3},gA);}
 if(p.name==='sigma'){for(let v=0.02;v<0.2;v+=0.02){const y=ys(p,v);
  mk('line',{x1:L,x2:L+10,y1:y,y2:y,stroke:AX,'stroke-width':3},gA);
  mk('line',{x1:R,x2:R-10,y1:y,y2:y,stroke:AX,'stroke-width':3},gA);}}
 p.ticks.forEach(v=>{const t=mk('text',{x:179,y:ys(p,v)+10,'text-anchor':'end','font-size':28,'font-weight':'bold',fill:AX},gA);
  t.textContent=String(v);
  
  });
 const fr=mk('rect',{x:L,y:p.top,width:R-L,height:p.bot-p.top,fill:'none',stroke:AX,'stroke-width':4},gA);
 
 
});
xTickLabels.forEach((s,i)=>{const t=mk('text',{x:xs(i),y:1186,'text-anchor':'middle','font-size':28,'font-weight':'bold',fill:AX},gA);
 t.textContent=s;
 
 });

function drawPath(p,pts,prn,name){
 const d=pts.map((q,i)=>(i?'L':'M')+xs(q[0]).toFixed(1)+','+ys(p,Math.max(p.min,Math.min(p.max,q[1]))).toFixed(1)).join('');
 const e=mk('path',{d:d,fill:'none',stroke:jet(prn),'stroke-width':2,'stroke-linejoin':'round'},gM);
 
 
}
vtecSeries.forEach((s,i)=>drawPath(panels[0],s,vtecPRN[i],'vtec-line-prn'+vtecPRN[i]));
function stepSeries(p,series,prns,starts,steps,label){
 series.forEach((vals,i)=>{const pts=vals.map((v,j)=>[starts[i]+j*steps[i],v]).filter(q=>q[0]<=24);drawPath(p,pts,prns[i],label+'-line-prn'+prns[i]);});
}
stepSeries(panels[1],rotSeries,rotPRN,rotStart,rotStep,'rot');
stepSeries(panels[2],s4Series,s4PRN,s4Start,s4Step,'s4');
stepSeries(panels[3],sigSeries,sigPRN,sigStart,sigStep,'sigma');

const cT=253,cB=1018,cL=1730,cR=1755;
const cy=v=>cB-(v-1)/31*(cB-cT);
for(let k=1;k<=32;k++){
 const y0=cB-(k)*(cB-cT)/32,y1=cB-(k-1)*(cB-cT)/32;
 const r=mk('rect',{x:cL,y:y0,width:cR-cL,height:y1-y0+0.5,fill:jet(k)},gC);
 
 
}
mk('rect',{x:cL,y:cT,width:cR-cL,height:cB-cT,fill:'none',stroke:AX,'stroke-width':3},gC);
cbarTicks.forEach(v=>{const y=cy(v);
 mk('line',{x1:cR-8,x2:cR,y1:y,y2:y,stroke:AX,'stroke-width':3},gC);
 const t=mk('text',{x:1766,y:y+10,'font-size':29,'font-weight':'bold',fill:AX},gC);
 t.textContent=String(v);
 
 });
</script>
</body></html>
